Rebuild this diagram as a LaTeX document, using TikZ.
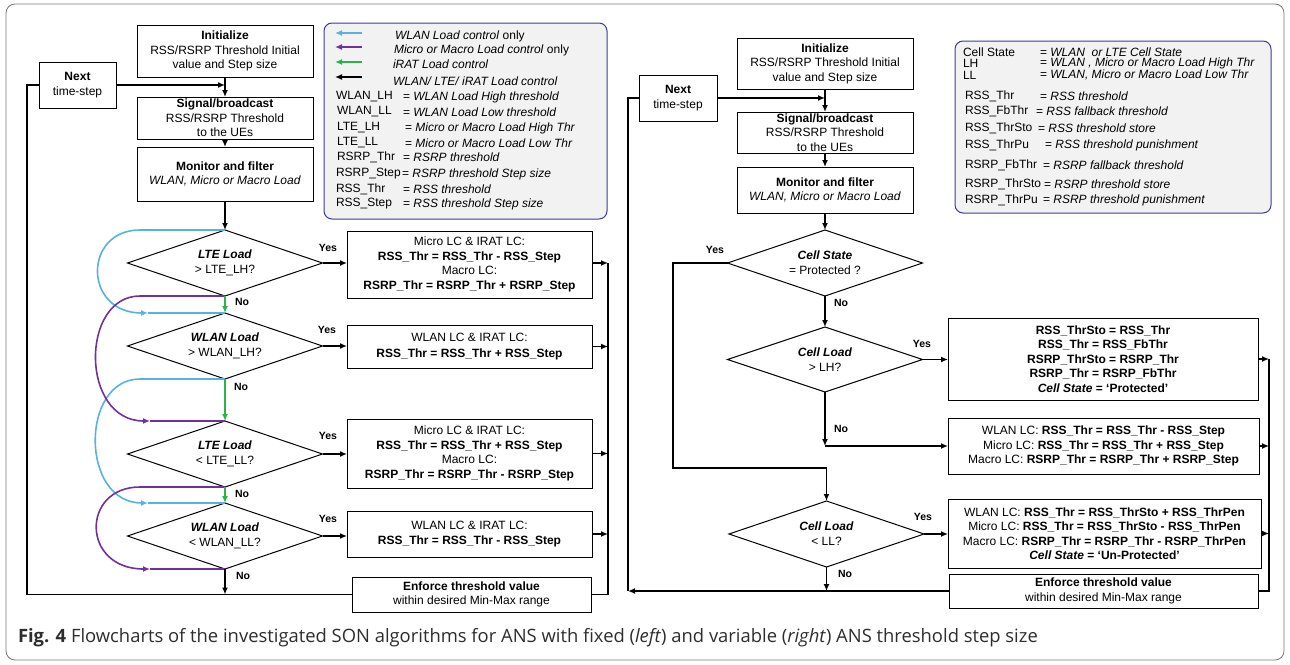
\documentclass[tikz,border=0pt]{standalone}
\usepackage{fontspec}
\setmainfont{Liberation Sans}
\newfontfamily\capfont{Open Sans}
\usetikzlibrary{shapes.geometric,arrows.meta}
\definecolor{lblue}{RGB}{86,178,226}
\definecolor{lpurple}{RGB}{112,48,160}
\definecolor{lgreen}{RGB}{40,180,70}
\definecolor{legborder}{RGB}{60,60,150}
\definecolor{legfill}{RGB}{242,242,242}
\definecolor{framegray}{RGB}{120,120,120}
\definecolor{captext}{RGB}{45,45,45}
\begin{document}
\begin{tikzpicture}[x=1pt,y=-1pt,
  every node/.style={inner sep=0pt, outer sep=0pt},
  box/.style={draw, line width=1pt, fill=white, align=center, font=\fontsize{12}{14.5}\selectfont},
  dia/.style={draw, diamond, shape aspect=3, line width=1pt, fill=white, align=center,
    minimum width=195pt, minimum height=66pt, font=\fontsize{12}{15}\selectfont},
  conn/.style={line width=1.6pt},
  arr/.style={conn, -{Latex[length=7pt,width=6pt]}},
  lbl/.style={font=\fontsize{10.5}{12}\selectfont\bfseries},
  leg/.style={anchor=west, font=\fontsize{12}{14}\selectfont},
  legbox/.style={draw=legborder, fill=legfill, line width=1pt, rounded corners=8pt},
]
\useasboundingbox (0,0) rectangle (1290,664);
\draw[framegray, line width=0.8pt, rounded corners=9pt] (6,4) rectangle (1284,660);

% ---------------- legends ----------------
\node[legbox, minimum width=283pt, minimum height=196pt] (legL) at (465.5,121) {};
\draw[arr, lblue] (362,33) -- (335,33);
\draw[arr, lpurple] (362,47) -- (335,47);
\draw[arr, lgreen] (362,62) -- (335,62);
\draw[arr, black] (362,77) -- (335,77);
\node[leg] (lg1) at (395,36) {\textit{WLAN Load control} only};
\node[leg] (lg2) at (394,50) {\textit{Micro or Macro Load control} only};
\node[leg] (lg3) at (393,64) {\textit{iRAT Load control}};
\node[leg] (lg4) at (393,81) {\textit{WLAN/ LTE/ iRAT Load control}};
\node[leg] (la1) at (336,97) {WLAN\_LH};   \node[leg] (lb1) at (403,97) {= \textit{WLAN Load High threshold}};
\node[leg] (la2) at (337,112) {WLAN\_LL};  \node[leg] (lb2) at (403,112) {= \textit{WLAN Load Low threshold}};
\node[leg] (la3) at (337,128) {LTE\_LH};   \node[leg] (lb3) at (405,128) {= \textit{Micro or Macro Load High Thr}};
\node[leg] (la4) at (337,143) {LTE\_LL};   \node[leg] (lb4) at (405,143) {= \textit{Micro or Macro Load Low Thr}};
\node[leg] (la5) at (337,157) {RSRP\_Thr}; \node[leg] (lb5) at (403,157) {= \textit{RSRP threshold}};
\node[leg] (la6) at (336,174) {RSRP\_Step};\node[leg] (lb6) at (402,174) {= \textit{RSRP threshold Step size}};
\node[leg] (la7) at (336,189) {RSS\_Thr};  \node[leg] (lb7) at (403,189) {= \textit{RSS threshold}};
\node[leg] (la8) at (336,204) {RSS\_Step}; \node[leg] (lb8) at (403,204) {= \textit{RSS threshold Step size}};

\node[legbox, minimum width=316pt, minimum height=172pt] (legR) at (1113,127) {};
\node[leg] (ra1) at (963,52) {Cell State};   \node[leg] (rb1) at (1040,52) {= \textit{WLAN\ \ or LTE Cell State}};
\node[leg] (ra2) at (963,63.5) {LH};         \node[leg] (rb2) at (1040,63.5) {= \textit{WLAN , Micro or Macro Load High Thr}};
\node[leg] (ra3) at (963,75) {LL};           \node[leg] (rb3) at (1040,75) {= \textit{WLAN, Micro or Macro Load Low Thr}};
\node[leg] (ra4) at (965,96) {RSS\_Thr};     \node[leg] (rb4) at (1040,96) {= \textit{RSS threshold}};
\node[leg] (ra5) at (965,111) {RSS\_FbThr};  \node[leg] (rb5) at (1036,111) {= \textit{RSS fallback threshold}};
\node[leg] (ra6) at (965,128) {RSS\_ThrSto}; \node[leg] (rb6) at (1038,128) {= \textit{RSS threshold store}};
\node[leg] (ra7) at (965,145) {RSS\_ThrPu};  \node[leg] (rb7) at (1045,145) {= \textit{RSS threshold punishment}};
\node[leg] (ra8) at (965,165) {RSRP\_FbThr}; \node[leg] (rb8) at (1043,165) {= \textit{RSRP fallback threshold}};
\node[leg] (ra9) at (965,184) {RSRP\_ThrSto};\node[leg] (rb9) at (1044,184) {= \textit{RSRP threshold store}};
\node[leg] (ra10) at (965,200) {RSRP\_ThrPu};\node[leg] (rb10) at (1043,200) {= \textit{RSRP threshold punishment}};

% ---------------- left flowchart ----------------
\node[box, minimum width=176pt, minimum height=52pt] (iniL) at (225,51) {\textbf{Initialize}\\RSS/RSRP Threshold Initial\\value and Step size};
\node[box, minimum width=77pt, minimum height=46pt] (nextL) at (77.5,85) {\textbf{Next}\\time-step};
\node[box, minimum width=176pt, minimum height=42pt] (sigL) at (225,118) {\textbf{Signal/broadcast}\\RSS/RSRP Threshold\\to the UEs};
\node[box, minimum width=176pt, minimum height=54pt] (monL) at (225,174) {\textbf{Monitor and filter}\\\textit{WLAN, Micro or Macro Load}};
\node[dia] (d1L) at (225,263) {\textbf{\textit{LTE Load}}\\> LTE\_LH?};
\node[dia] (d2L) at (225,346) {\textbf{\textit{WLAN Load}}\\> WLAN\_LH?};
\node[dia] (d3L) at (225,454) {\textbf{\textit{LTE Load}}\\< LTE\_LL?};
\node[dia] (d4L) at (225,536) {\textbf{\textit{WLAN Load}}\\< WLAN\_LL?};
\node[box, minimum width=245pt, minimum height=67pt] (b1L) at (469.5,264.5) {Micro LC \& IRAT LC:\\\textbf{RSS\_Thr = RSS\_Thr - RSS\_Step}\\Macro LC:\\\textbf{RSRP\_Thr = RSRP\_Thr + RSRP\_Step}};
\node[box, minimum width=245pt, minimum height=43pt] (b2L) at (469.5,346.5) {WLAN LC \& IRAT LC:\\[2pt]\textbf{RSS\_Thr = RSS\_Thr + RSS\_Step}};
\node[box, minimum width=245pt, minimum height=69pt] (b3L) at (469.5,453.5) {Micro LC \& IRAT LC:\\\textbf{RSS\_Thr = RSS\_Thr + RSS\_Step}\\Macro LC:\\\textbf{RSRP\_Thr = RSRP\_Thr - RSRP\_Step}};
\node[box, minimum width=245pt, minimum height=46pt] (b4L) at (469.5,534) {WLAN LC \& IRAT LC:\\\textbf{RSS\_Thr = RSS\_Thr - RSS\_Step}};
\node[box, minimum width=239pt, minimum height=35pt] (enfL) at (471.5,594.5) {\textbf{Enforce threshold value}\\within desired Min-Max range};

\coordinate (lxL) at (27,0);
\coordinate (rxL) at (608,0);
\draw[arr] (iniL) -- (sigL);
\draw[arr] (sigL) -- (monL);
\draw[arr] (monL) -- (d1L);
\draw[arr] (nextL.east) -- (nextL.east -| iniL.south);
\draw[conn] (enfL.west) -- (enfL.west -| lxL) -- (nextL.west -| lxL) -- (nextL.west);

% colored control paths
\draw[conn, lblue, -{Latex[length=7pt,width=6pt]}] (d1L.north) -- (140,230) .. controls (83,230) and (83,313) .. (148,313);
\draw[conn, lblue] (148,313) -- (d2L.north);
\draw[conn, lblue, -{Latex[length=7pt,width=6pt]}] (d2L.south) -- (140,379) .. controls (80,379) and (80,503) .. (148,503);
\draw[conn, lblue] (148,503) -- (d4L.north);
\draw[conn, lpurple, -{Latex[length=7pt,width=6pt]}] (d1L.south) -- (140,296) .. controls (80,296) and (80,421) .. (150,421);
\draw[conn, lpurple] (150,421) -- (d3L.north);
\draw[conn, lpurple, -{Latex[length=7pt,width=6pt]}] (d3L.south) -- (140,487) .. controls (81,487) and (81,569) .. (150,569);
\draw[conn, lpurple] (150,569) -- (d4L.south);
\draw[arr, lgreen] (d1L.south) -- (d2L.north);
\draw[arr, lgreen] (d2L.south) -- (d3L.north);
\draw[arr, lgreen] (d3L.south) -- (d4L.north);
\draw[arr] (d4L.south) -- (d4L.south |- enfL.west);

\draw[arr] (d1L.east) -- (d1L.east -| b1L.west);
\draw[arr] (d2L.east) -- (d2L.east -| b2L.west);
\draw[arr] (d3L.east) -- (d3L.east -| b3L.west);
\draw[arr] (d4L.east) -- (d4L.east -| b4L.west);
\draw[arr] (b1L.east |- d1L.east) -- (d1L.east -| rxL);
\draw[arr] (b2L.east) -- (b2L.east -| rxL);
\draw[arr] (b3L.east) -- (b3L.east -| rxL);
\draw[arr] (b4L.east) -- (b4L.east -| rxL);
\draw[conn] (d1L.east -| rxL) -- (enfL.east -| rxL) -- (enfL.east);

\node[lbl] (y1L) at (328,248) {Yes};
\node[lbl] (y2L) at (327,330) {Yes};
\node[lbl] (y3L) at (328,436) {Yes};
\node[lbl] (y4L) at (328,519) {Yes};
\node[lbl] (n1L) at (242,302) {No};
\node[lbl] (n2L) at (241,387) {No};
\node[lbl] (n3L) at (242,494) {No};
\node[lbl] (n4L) at (243,576) {No};

% ---------------- right flowchart ----------------
\node[box, minimum width=176pt, minimum height=51pt] (iniR) at (825,63.5) {\textbf{Initialize}\\RSS/RSRP Threshold Initial\\value and Step size};
\node[box, minimum width=78pt, minimum height=46pt] (nextR) at (678,98) {\textbf{Next}\\time-step};
\node[box, minimum width=176pt, minimum height=41pt] (sigR) at (825,132.5) {\textbf{Signal/broadcast}\\RSS/RSRP Threshold\\to the UEs};
\node[box, minimum width=176pt, minimum height=46pt] (monR) at (825,190) {\textbf{Monitor and filter}\\\textit{WLAN, Micro or Macro Load}};
\node[dia] (dA) at (825,263) {\textbf{\textit{Cell State}}\\= Protected ?};
\node[dia, minimum height=65pt] (dB) at (825,359.5) {\textbf{\textit{Cell Load}}\\> LH?};
\node[dia] (dC) at (826.5,534) {\textbf{\textit{Cell Load}}\\< LL?};
\node[box, minimum width=310pt, minimum height=82pt] (pB) at (1103,359) {\textbf{RSS\_ThrSto = RSS\_Thr}\\\textbf{RSS\_Thr = RSS\_FbThr}\\\textbf{RSRP\_ThrSto = RSRP\_Thr}\\\textbf{RSRP\_Thr = RSRP\_FbThr}\\\textbf{\textit{Cell State} = ‘Protected’}};
\node[box, minimum width=311pt, minimum height=56pt] (qB) at (1103.5,446) {WLAN LC: \textbf{RSS\_Thr = RSS\_Thr - RSS\_Step}\\Micro LC: \textbf{RSS\_Thr = RSS\_Thr + RSS\_Step}\\Macro LC: \textbf{RSRP\_Thr = RSRP\_Thr + RSRP\_Step}};
\node[box, minimum width=313pt, minimum height=69pt] (rB) at (1104.5,533.5) {WLAN LC: \textbf{RSS\_Thr = RSS\_ThrSto + RSS\_ThrPen}\\Micro LC: \textbf{RSS\_Thr = RSS\_ThrSto - RSS\_ThrPen}\\Macro LC: \textbf{RSRP\_Thr = RSRP\_Thr - RSRP\_ThrPen}\\\textbf{\textit{Cell State} = ‘Un-Protected’}};
\node[box, minimum width=309pt, minimum height=34pt] (enfR) at (1103.5,591) {\textbf{Enforce threshold value}\\within desired Min-Max range};

\coordinate (lxR) at (628,0);
\coordinate (rxR) at (1269,0);
\coordinate (yxR) at (673,0);
\coordinate (jcR) at (826.5,468);
\draw[arr] (iniR) -- (sigR);
\draw[arr] (sigR) -- (monR);
\draw[arr] (monR) -- (dA);
\draw[arr] (nextR.east) -- (nextR.east -| iniR.south);
\draw[arr] (dA) -- (dB);
\draw[arr] (dA.west) -- (dA.west -| yxR) |- (jcR) -- (dC.north);
\draw[arr] (dB.south) -- (dB.south |- qB.west);
\draw[arr] (dB.south |- qB.west) -- (qB.west);
\draw[arr] (dB.east) -- (dB.east -| pB.west);
\draw[arr] (dC.east) -- (dC.east -| rB.west);
\draw[arr] (dC.south) -- (dC.south |- enfR.west);
\draw[arr] (enfR.west) -- (enfR.west -| lxR);
\draw[conn] (enfR.west -| lxR) -- (nextR.west -| lxR) -- (nextR.west);
\draw[arr] (pB.east) -- (pB.east -| rxR);
\draw[arr] (qB.east) -- (qB.east -| rxR);
\draw[arr] (rB.east) -- (rB.east -| rxR);
\draw[conn] (pB.east -| rxR) -- (enfR.east -| rxR) -- (enfR.east);

\node[lbl] (yA) at (715,250) {Yes};
\node[lbl] (nA) at (841,303) {No};
\node[lbl] (yB) at (922,344) {Yes};
\node[lbl] (nB) at (841,429) {No};
\node[lbl] (yC) at (923,517) {Yes};
\node[lbl] (nC) at (845,574) {No};

% ---------------- caption ----------------
\node[anchor=west, text=captext, font=\capfont\fontsize{18.4}{21}\selectfont] (cap) at (18,638)
  {\textbf{Fig. 4} Flowcharts of the investigated SON algorithms for ANS with fixed (\textit{left}) and variable (\textit{right}) ANS threshold step size};
\end{tikzpicture}
\end{document}
